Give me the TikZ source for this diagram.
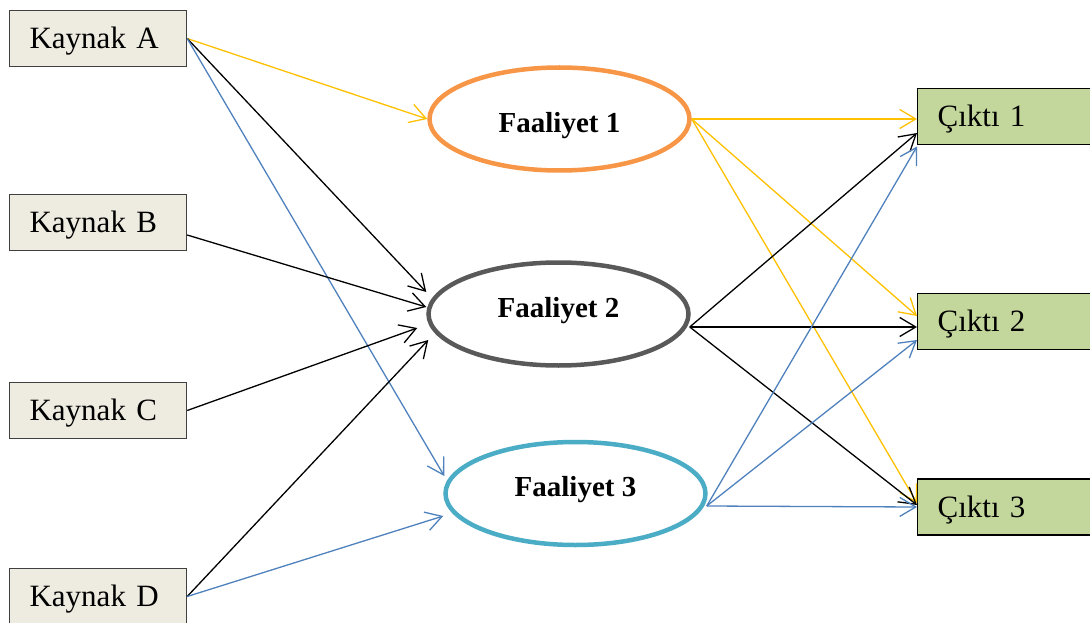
\documentclass[tikz,border=0pt]{standalone}
\usepackage{fontspec}
\setmainfont{Liberation Serif}
\usetikzlibrary{arrows.meta,shapes.geometric}
\definecolor{kfill}{HTML}{EEECE1}
\definecolor{kline}{HTML}{404040}
\definecolor{cfill}{HTML}{C3D69B}
\definecolor{orng}{HTML}{F79646}
\definecolor{dgray}{HTML}{595959}
\definecolor{aqua}{HTML}{4BACC6}
\definecolor{gold}{HTML}{FFC000}
\definecolor{blu}{HTML}{4F81BD}
\begin{document}
\begin{tikzpicture}[x=1pt,y=-1pt,
  src/.style={draw=kline,fill=kfill,line width=1.2pt,minimum height=56pt,
    inner xsep=20pt,inner ysep=0pt,text width=137pt,align=left,
    font=\fontsize{31}{37}\selectfont,text height=20.5pt,text depth=0pt},
  outbox/.style={draw=black,fill=cfill,line width=1.2pt,minimum height=56pt,
    inner xsep=20pt,inner ysep=0pt,text width=150pt,align=left,
    font=\fontsize{31}{37}\selectfont,text height=20.5pt,text depth=0pt},
  act/.style={ellipse,line width=4.5pt,minimum width=260pt,minimum height=103pt,
    inner sep=0pt,fill=white,font=\fontsize{29}{35}\selectfont\bfseries},
  arr/.style={line width=1.3pt,-{Straight Barb[length=16pt,width=19pt]}},
]
\useasboundingbox (0,0) rectangle (1090,623);
\clip (0,0) rectangle (1090,623);

\node[src] (ka) at (98.1,38.5) {Kaynak A};
\node[src] (kb) at (98.1,222.5) {Kaynak B};
\node[src] (kc) at (98.1,410.5) {Kaynak C};
\node[src] (kd) at (98.1,596.5) {Kaynak D};

\node[act,draw=orng,text height=26.4pt,text depth=0pt] (f1) at (559.5,119) {Faaliyet 1};
\node[act,draw=dgray,text height=19.6pt,text depth=13.2pt] (f2) at (558.5,314) {Faaliyet 2};
\node[act,draw=aqua,text height=19.6pt,text depth=14.2pt] (f3) at (575.5,493.5) {Faaliyet 3};

\node[outbox] (c1) at (1012.6,116.5) {Çıktı 1};
\node[outbox] (c2) at (1012.6,321.5) {Çıktı 2};
\node[outbox] (c3) at (1012.6,507) {Çıktı 3};

% inputs
\draw[arr,gold] (ka.east) -- (f1.west);
\draw[arr] (ka.east) -- ([yshift=22pt]f2.west);
\draw[arr,blu] (ka.east) -- ([xshift=1pt,yshift=17.5pt]f3.west);
\draw[arr] ([yshift=-12.5pt]kb.east) -- ([yshift=7pt]f2.west);
\draw[arr] (kc.east) -- ([xshift=-9pt,yshift=-14pt]f2.west);
\draw[arr] (kd.east) -- ([xshift=2pt,yshift=-26pt]f2.west);
\draw[arr,blu] (kd.east) -- ([yshift=-22.5pt]f3.west);

% outputs
\draw[arr,gold] (f1.east) -- ([yshift=-2.5pt]c1.west);
\draw[arr,gold] (f1.east) -- ([yshift=5.5pt]c2.west);
\draw[arr,gold] (f1.east) -- ([yshift=4pt]c3.west);
\draw[arr] ([xshift=-1pt,yshift=-13pt]f2.east) -- ([yshift=-16.5pt]c1.west);
\draw[arr] ([xshift=-1pt,yshift=-13pt]f2.east) -- ([yshift=-5.5pt]c2.west);
\draw[arr] ([xshift=-1pt,yshift=-13pt]f2.east) -- ([yshift=2pt]c3.west);
\draw[arr,blu] ([xshift=-1pt,yshift=-12.5pt]f3.east) -- ([yshift=-30pt]c1.west);
\draw[arr,blu] ([xshift=-1pt,yshift=-12.5pt]f3.east) -- ([yshift=-18.5pt]c2.west);
\draw[arr,blu] ([xshift=-1pt,yshift=-12.5pt]f3.east) -- (c3.west);
\end{tikzpicture}
\end{document}
